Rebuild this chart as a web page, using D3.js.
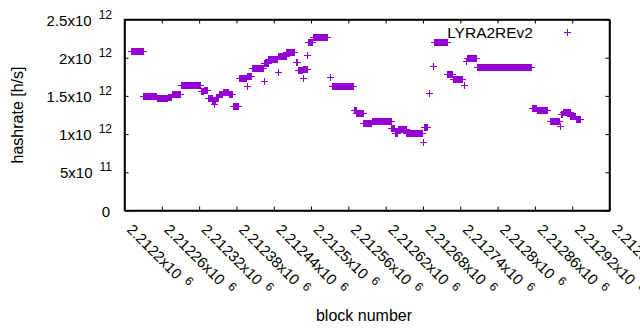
<!DOCTYPE html>
<html>
<head>
<meta charset="utf-8">
<script src="https://cdn.jsdelivr.net/npm/d3@7/dist/d3.min.js"></script>
<style>
body{margin:0;background:#fff;}
#contents{position:relative;width:640px;height:330px;}
svg{display:block;font-family:"Liberation Sans",Arial,sans-serif;}
</style>
</head>
<body>
<div id="contents"></div>
<script>
// runs of equal hashrate (block from, block to (exclusive), hashrate in 1e12 h/s)
var runStart = [2212210,2212230,2212252,2212270,2212276,2212291,2212323,2212328,2212334,2212341,2212347,2212352,2212358,2212368,2212374,2212384,2212397,2212405,2212424,2212431,2212447,2212460,2212476,2212479,2212487,2212495,2212503,2212534,2212569,2212573,2212584,2212598,2212608,2212629,2212635,2212640,2212653,2212682,2212698,2212719,2212728,2212751,2212767,2212855,2212863,2212884,2212902,2212905,2212917,2212926];
var runEnd   = [2212230,2212252,2212270,2212276,2212291,2212323,2212328,2212334,2212341,2212347,2212352,2212358,2212368,2212374,2212384,2212397,2212405,2212423,2212431,2212447,2212460,2212473,2212479,2212487,2212494,2212503,2212527,2212569,2212573,2212584,2212598,2212608,2212629,2212635,2212640,2212653,2212680,2212688,2212719,2212728,2212743,2212767,2212855,2212863,2212881,2212900,2212905,2212917,2212926,2212933];
var runHash  = [2.09,1.50,1.47,1.49,1.53,1.64,1.56,1.58,1.47,1.43,1.48,1.53,1.55,1.52,1.37,1.73,1.76,1.87,1.93,1.98,2.02,2.08,1.94,1.84,1.85,2.21,2.27,1.63,1.31,1.27,1.15,1.165,1.17,1.08,1.02,1.065,1.015,1.09,2.20,1.79,1.72,2.00,1.88,1.34,1.32,1.17,1.26,1.29,1.24,1.20];

// lone points
var ptBlock = [2212344,2212397,2212424,2212447,2212487,2212494,2212531,2212680,2212690,2212696,2212746,2212749,2212900];
var ptHash  = [1.40,1.63,1.70,1.81,1.74,2.04,1.75,0.90,1.54,1.89,1.64,1.96,1.11];

var xTicks = [2212200,2212260,2212320,2212380,2212440,2212500,2212560,2212620,2212680,2212740,2212800,2212860,2212920,2212980];
var xTickLabels = ["2.2122","2.21226","2.21232","2.21238","2.21244","2.2125","2.21256","2.21262","2.21268","2.21274","2.2128","2.21286","2.21292","2.21298"];
var yTicks = [0,5e11,1e12,1.5e12,2e12,2.5e12];
var yTickLabels = ["0","5","1","1.5","2","2.5"];
var yTickExp = ["","11","12","12","12","12"];

var seriesName = "LYRA2REv2";
var color = "#9400d3";

function drawChart(){
	var width = 640, height = 330;
	var pLeft = 124, pRight = 609, pTop = 19, pBottom = 210;

	var points = [];
	runStart.forEach(function(s,i){
		for(var b = s; b < runEnd[i]; b++){ points.push({b:b, h:runHash[i]*1e12}); }
	});
	ptBlock.forEach(function(b,i){ points.push({b:b, h:ptHash[i]*1e12}); });

	var x = d3.scaleLinear().domain([2212200,2212980]).range([pLeft+0.5,pRight+0.5]);
	var y = d3.scaleLinear().domain([0,2.5e12]).range([pBottom+0.5,pTop+0.5]);

	var svg = d3.select("#contents").append("svg")
		.attr("width",width).attr("height",height)
		.attr("viewBox","0 0 "+width+" "+height);

	// axes with inward ticks, mirrored on top/right
	var gx = svg.append("g").attr("transform","translate(0,"+(pBottom+0.5)+")")
		.call(d3.axisBottom(x).tickValues(xTicks).tickSizeInner(-4).tickSizeOuter(0).tickFormat(function(d,i){return xTickLabels[i];}));
	svg.append("g").attr("transform","translate(0,"+(pTop+0.5)+")")
		.call(d3.axisTop(x).tickValues(xTicks).tickSizeInner(-4).tickSizeOuter(0).tickFormat(""));
	var gy = svg.append("g").attr("transform","translate("+(pLeft+0.5)+",0)")
		.call(d3.axisLeft(y).tickValues(yTicks).tickSizeInner(-4).tickSizeOuter(0).tickFormat(function(d,i){return yTickLabels[i];}));
	svg.append("g").attr("transform","translate("+(pRight+0.5)+",0)")
		.call(d3.axisRight(y).tickValues(yTicks).tickSizeInner(-4).tickSizeOuter(0).tickFormat(""));

	svg.selectAll(".tick line").attr("stroke","#000");
	// axis domain lines double as the plot border
	svg.selectAll(".domain").attr("stroke","#000").attr("stroke-width",1.5);

	gx.selectAll(".tick text").each(function(d,i){
		var t = d3.select(this);
		t.text(null)
			.attr("fill","#000").attr("font-size",15).attr("text-anchor","start")
			.attr("x",0).attr("y",0).attr("dy",null)
			.attr("transform","translate(1,20) rotate(45)");
		t.append("tspan").text(xTickLabels[i]+"x10");
		t.append("tspan").attr("dx",7).attr("dy",-5).attr("font-size",12).text("6");
	});

	gy.selectAll(".tick text").each(function(d,i){
		var t = d3.select(this);
		t.text(null)
			.attr("fill","#000").attr("font-size",15).attr("text-anchor","end")
			.attr("x",-12.5).attr("dy",null).attr("y",5.5);
		if(yTickExp[i]){
			t.append("tspan").text(yTickLabels[i]+"x10");
			t.append("tspan").attr("dx",7).attr("dy",-7).attr("font-size",12).text(yTickExp[i]);
		} else {
			t.append("tspan").attr("dx",-2).text(yTickLabels[i]);
		}
	});
	svg.selectAll("g").attr("font-family",null).attr("font-size",null);

	var plus = "M-3.5,0H3.5M0,-3.5V3.5";
	svg.append("g").selectAll("path")
		.data(points)
		.enter()
			.append("path")
			.attr("d",plus)
			.attr("transform",function(d){return "translate("+(Math.round(x(d.b))+0.5)+","+(Math.round(y(d.h))+0.5)+")";})
			.attr("fill","none")
			.attr("stroke",color);

	// plot border
	svg.append("rect")
		.attr("x",pLeft+0.5).attr("y",pTop+0.5)
		.attr("width",pRight-pLeft).attr("height",pBottom-pTop)
		.style("fill","none").style("stroke","black").style("stroke-width","1.5px");

	// same border as an html box laid over the svg
	d3.select("#contents").append("div")
		.style("position","absolute")
		.style("left",pLeft+"px").style("top",pTop+"px")
		.style("width",(pRight-pLeft-1)+"px").style("height",(pBottom-pTop-1)+"px")
		.style("border","1px solid #000")
		.style("pointer-events","none");

	// legend
	svg.append("text")
		.attr("x",533).attr("y",37.5)
		.attr("text-anchor","end")
		.attr("font-size",15.5)
		.text(seriesName);
	svg.append("path")
		.attr("d",plus)
		.attr("transform","translate(567.5,32.5)")
		.attr("fill","none").attr("stroke",color);

	// axis titles
	svg.append("text")
		.attr("transform","translate(23,115) rotate(-90)")
		.attr("text-anchor","middle")
		.attr("font-size",16)
		.text("hashrate [h/s]");
	svg.append("text")
		.attr("x",364).attr("y",321)
		.attr("text-anchor","middle")
		.attr("font-size",16)
		.text("block number");
}
drawChart();
</script>
</body>
</html>
